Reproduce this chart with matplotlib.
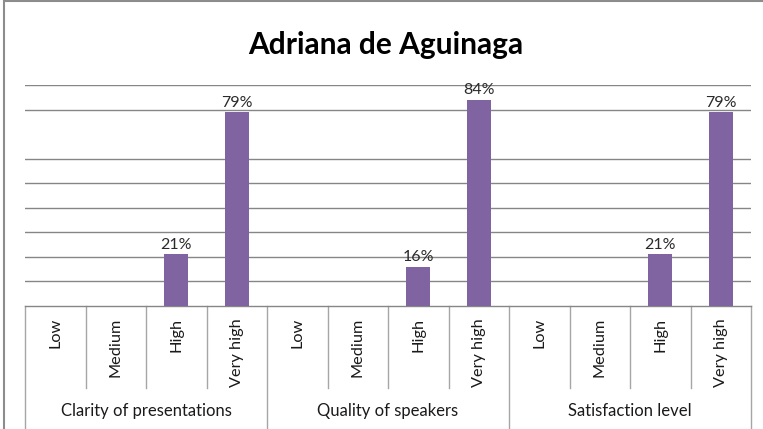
import numpy as np
import matplotlib.pyplot as plt
from matplotlib.patches import Rectangle
from matplotlib.transforms import blended_transform_factory

plt.rcParams['font.family'] = ['Lato', 'DejaVu Sans']

groups = ["Clarity of presentations", "Quality of speakers", "Satisfaction level"]
levels = ["Low", "Medium", "High", "Very high"]
values = [
    [0, 0, 21, 79],
    [0, 0, 16, 84],
    [0, 0, 21, 79],
]
title = "Adriana de Aguinaga"

W, H = 763, 429
fig = plt.figure(figsize=(W / 100, H / 100), dpi=100)
# outer chart border (only top and left visible in the crop)
fig.patches.append(Rectangle((4 / W, -0.1), 1.2, 1.1 - 1.5 / H, transform=fig.transFigure,
                             fill=False, edgecolor='#8c8c8c', linewidth=1.5))

x0, x1 = 25, 751
y_axis, y_top = 306, 85
ax = fig.add_axes([x0 / W, 1 - y_axis / H, (x1 - x0) / W, (y_axis - y_top) / H])

n = len(levels)
xs = []
ys = []
for g, vals in enumerate(values):
    for i, v in enumerate(vals):
        xs.append(g * n + i)
        ys.append(v)
xs = np.array(xs)
ys = np.array(ys)

bar_color = '#8064A2'
ax.bar(xs, ys, width=0.4, color=bar_color, zorder=3)
for x, v in zip(xs, ys):
    if v > 0:
        ax.text(x, v + 1.0, f"{v}%", ha='center', va='bottom', fontsize=11.5,
                color='#2a2a2a')

ax.set_xlim(-0.5, len(xs) - 0.5)
ax.set_ylim(0, 90)
grid_levels = [10, 20, 30, 40, 50, 60, 80, 90]
for gy in grid_levels:
    ax.axhline(gy, color='#868686', linewidth=1, zorder=1)

for s in ['left', 'right', 'top']:
    ax.spines[s].set_visible(False)
ax.spines['bottom'].set_color('#868686')
ax.spines['bottom'].set_linewidth(1)
ax.set_xticks([])
ax.set_yticks([])

# multi-level category axis
ph = y_axis - y_top
def ay(px):
    return (y_axis - px) / ph

tr = blended_transform_factory(ax.transData, ax.transAxes)
sep_col = '#a6a6a6'
for k in range(len(xs) + 1):
    xb = k - 0.5
    bottom = ay(H) if k % n == 0 else ay(388)
    ax.plot([xb, xb], [0, bottom], transform=tr, color=sep_col, linewidth=1, clip_on=False)

for x in xs:
    ax.text(x, ay(318), levels[x % n], transform=tr, rotation=90, ha='center', va='top',
            fontsize=11.7, color='#1a1a1a')
for g, name in enumerate(groups):
    ax.text(g * n + (n - 1) / 2, ay(411), name, transform=tr, ha='center', va='center',
            fontsize=12, color='#1a1a1a')

fig.text(386 / W, 1 - 45 / H, title, ha='center', va='center', fontsize=21.5,
         fontweight='bold', color='black')

fig.savefig('out.png', dpi=100)
